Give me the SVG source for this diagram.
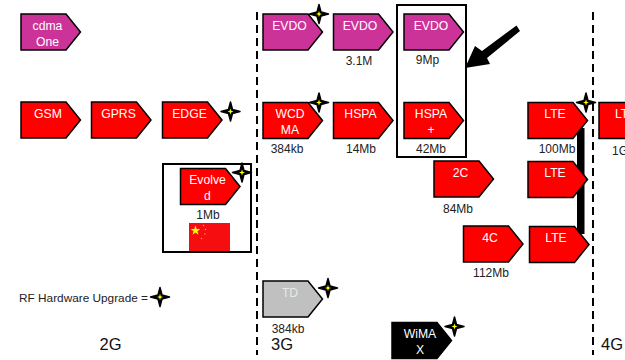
<svg xmlns="http://www.w3.org/2000/svg" width="625" height="360" viewBox="0 0 625 360">
<style>
text{font-family:"Liberation Sans",Arial,sans-serif;text-anchor:middle}
.n{stroke:#000;stroke-width:1.5;stroke-linejoin:miter}
.p{fill:#cc3399}.r{fill:#ff0000}.g{fill:#c0c0c0}.k{fill:#000}
.t{font-size:12.200px;fill:#fff}.g2{fill:#e8e8e8}
.l{font-size:12px;fill:#222}
.b{font-size:16.500px;fill:#111}
.box{fill:none;stroke:#000;stroke-width:2}
.d{stroke:#000;stroke-width:2;stroke-dasharray:8 5;fill:none}
.st{text-anchor:start}
</style>
<defs>
<path id="h" class="n" d="M0 0H45L59.500 18L45 36H0Z"/>
<g id="s"><path d="M0-9.500L2-2L9.500 0L2 2L0 9.500L-2 2L-9.500 0L-2-2Z" fill="#000" stroke="#000" stroke-width="1.500" stroke-linejoin="round"/><path d="M0-3L.8-.8L3 0L.8.8L0 3L-.8.8L-3 0L-.8-.8Z" fill="#ffff00"/></g>
</defs>
<g id="connectors">
<path class="d" d="M257 12V355"/>
<path class="d" d="M593 12V355"/>
<rect id="lte-bar" x="577" y="128" width="7.500" height="106" fill="#000"/>
<path id="big-arrow" d="M520 31L487 58L490 64L465 68L475 46L482 51L516.500 25.500Z" fill="#000"/>
</g>
<g id="box-evolved"><rect class="box" x="163" y="164" width="88" height="88"/></g>
<g id="box-hspa"><rect class="box" x="397" y="5" width="69" height="152"/></g>
<g id="cdmaone"><use href="#h" x="21" y="14" class="p"/><text class="t" x="47.500" y="30">cdma</text><text class="t" x="47.500" y="46">One</text></g>
<g id="gsm"><use href="#h" x="21" y="102" class="r"/><text class="t" x="48" y="118">GSM</text></g>
<g id="gprs"><use href="#h" x="91.500" y="102" class="r"/><text class="t" x="118.500" y="118">GPRS</text></g>
<g id="edge"><use href="#h" x="162.500" y="102" class="r"/><text class="t" x="189.500" y="118">EDGE</text><use href="#s" x="230.500" y="111.500"/></g>
<g id="evolved"><use href="#h" x="180.500" y="168.500" class="r"/><text class="t" x="207.500" y="184">Evolve</text><text class="t" x="207.500" y="200">d</text><use href="#s" x="242" y="172.500"/><text class="l" x="208" y="219">1Mb</text></g>
<g id="china-flag"><rect x="189" y="223" width="41" height="28" fill="#f50d10"/><path d="M195.500 225.500L196.700 229H200.300L197.400 231.200L198.500 234.700L195.500 232.600L192.500 234.700L193.600 231.200L190.700 229H194.300Z" fill="#ffff00"/><g fill="#ffb400"><circle cx="203.500" cy="225.500" r=".7"/><circle cx="205.500" cy="229.500" r=".7"/><circle cx="205" cy="234" r=".7"/><circle cx="201.500" cy="238.500" r=".7"/></g></g>
<g id="evdo1"><use href="#h" x="263" y="14" class="p"/><text class="t" x="289.500" y="30">EVDO</text><use href="#s" x="319" y="14"/></g>
<g id="evdo2"><use href="#h" x="333.500" y="14" class="p"/><text class="t" x="360" y="30">EVDO</text><text class="l" x="359" y="65">3.1M</text></g>
<g id="evdo3"><use href="#h" x="404" y="14" class="p"/><text class="t" x="431" y="30">EVDO</text><text class="l" x="427.500" y="64">9Mp</text></g>
<g id="wcdma"><use href="#h" x="263" y="102.500" class="r"/><text class="t" x="290" y="118">WCD</text><text class="t" x="290" y="134">MA</text><use href="#s" x="319" y="102.500"/><text class="l" x="287" y="153">384kb</text></g>
<g id="hspa"><use href="#h" x="333.500" y="102.500" class="r"/><text class="t" x="360.500" y="118">HSPA</text><text class="l" x="361" y="153">14Mb</text></g>
<g id="hspaplus"><use href="#h" x="404" y="102.500" class="r"/><text class="t" x="431" y="118">HSPA</text><text class="t" x="431" y="134">+</text><text class="l" x="431" y="153">42Mb</text></g>
<g id="c2"><use href="#h" x="434" y="161" class="r"/><text class="t" x="460.500" y="177">2C</text><text class="l" x="458" y="213">84Mb</text></g>
<g id="c4"><use href="#h" x="463.500" y="226" class="r"/><text class="t" x="490" y="242">4C</text><text class="l" x="491" y="277">112Mb</text></g>
<g id="lte1"><use href="#h" x="528" y="102.500" class="r"/><text class="t" x="555" y="118">LTE</text><use href="#s" x="586" y="102.500"/><text class="l" x="557" y="153">100Mb</text></g>
<g id="lte2"><use href="#h" x="528" y="161.500" class="r"/><text class="t" x="555" y="177">LTE</text></g>
<g id="lte3"><use href="#h" x="529.500" y="226.500" class="r"/><text class="t" x="556" y="242">LTE</text></g>
<g id="lte4"><use href="#h" x="599" y="102.500" class="r"/><text class="t st" x="615" y="118">LTE</text><text class="l st" x="612" y="155">1G</text></g>
<g id="td"><use href="#h" x="263" y="281" class="g"/><text class="t g2" x="290" y="297">TD</text><use href="#s" x="328" y="288"/><text class="l" x="288" y="333">384kb</text></g>
<g id="wimax"><use href="#h" x="392" y="322.500" class="k"/><text class="t" x="420" y="338">WiMA</text><text class="t" x="420" y="354">X</text><use href="#s" x="454.500" y="326.500"/></g>
<g id="legend"><text class="l" x="83.500" y="302" style="font-size:11.800px">RF Hardware Upgrade =</text><use href="#s" x="160" y="297"/></g>
<text class="b" x="110.500" y="350">2G</text>
<text class="b" x="282" y="350">3G</text>
<text class="b" x="612" y="350">4G</text>
</svg>
